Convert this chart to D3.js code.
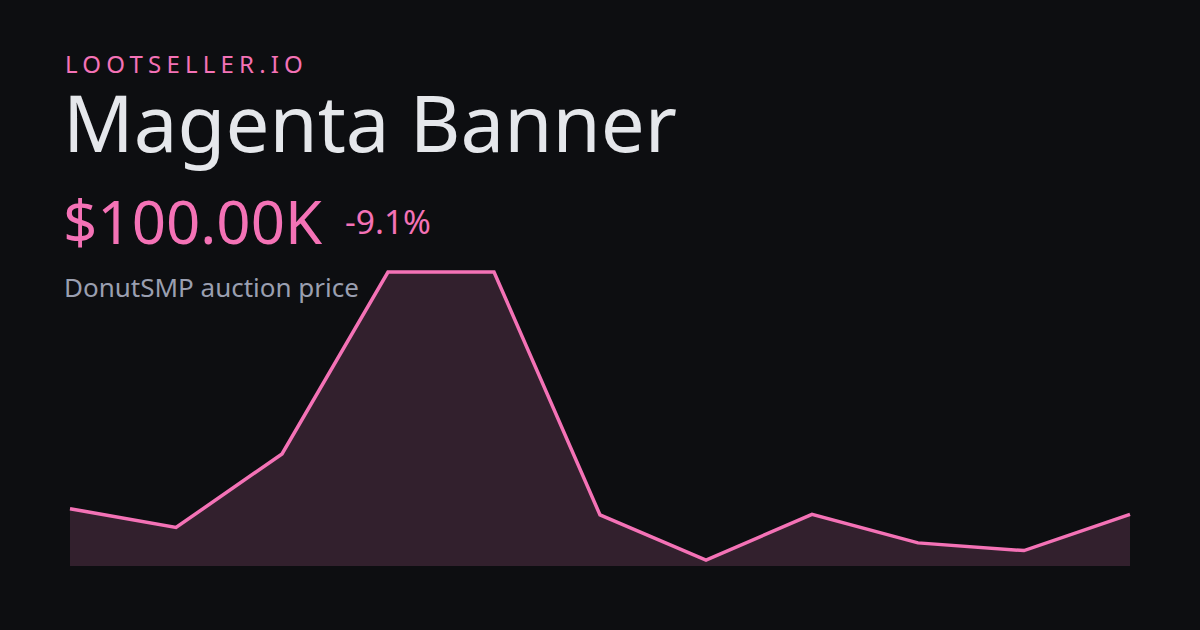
<!DOCTYPE html>
<html><head><meta charset="utf-8">
<script src="https://cdn.jsdelivr.net/npm/d3@7"></script>
<style>
html,body{margin:0;padding:0;background:#0d0e11;}
svg{display:block;}
</style></head>
<body><svg id="c" width="1200" height="630"></svg>
<script>
const brand = "LOOTSELLER.IO";
const title = "Magenta Banner";
const priceLabel = "$100.00K";
const changeLabel = "-9.1%";
const subtitle = "DonutSMP auction price";
const points = [0,1,2,3,4,5,6,7,8,9,10];
const prices = [110, 77, 206, 525, 525, 99, 20, 100, 50, 36.5, 100];

const svg = d3.select("#c");
svg.append("rect").attr("width",1200).attr("height",630).attr("fill","#0d0e11");

const x = d3.scaleLinear().domain([0, points.length-1]).range([70,1130]);
const y = d3.scaleLinear().domain([d3.min(prices), d3.max(prices)]).range([560,272]);
const baseY = 566;

const area = d3.area().x((d,i)=>x(points[i])).y0(baseY).y1(d=>y(d));
const line = d3.line().x((d,i)=>x(points[i])).y(d=>y(d));

svg.append("path").datum(prices).attr("d",area).attr("fill","#32202d");
svg.append("path").datum(prices).attr("d",line).attr("fill","none")
  .attr("stroke","#f472b6").attr("stroke-width",3.5).attr("stroke-linejoin","miter");

const font = "'Noto Sans', sans-serif";
svg.append("text").attr("x",65).attr("y",72.5).text(brand)
  .attr("font-family",font).attr("font-size",24).attr("letter-spacing",5.2).attr("fill","#f472b6");
svg.append("text").attr("x",63).attr("y",152).text(title)
  .attr("font-family",font).attr("font-size",78).attr("fill","#e5e7eb");
svg.append("text").attr("x",63).attr("y",244).text(priceLabel)
  .attr("font-family",font).attr("font-size",60).attr("fill","#f472b6");
svg.append("text").attr("x",345).attr("y",233.5).text(changeLabel)
  .attr("font-family",font).attr("font-size",33.5).attr("fill","#f472b6");
svg.append("text").attr("x",64).attr("y",297).text(subtitle)
  .attr("font-family",font).attr("font-size",26).attr("fill","#9a9fb0");
</script></body></html>
